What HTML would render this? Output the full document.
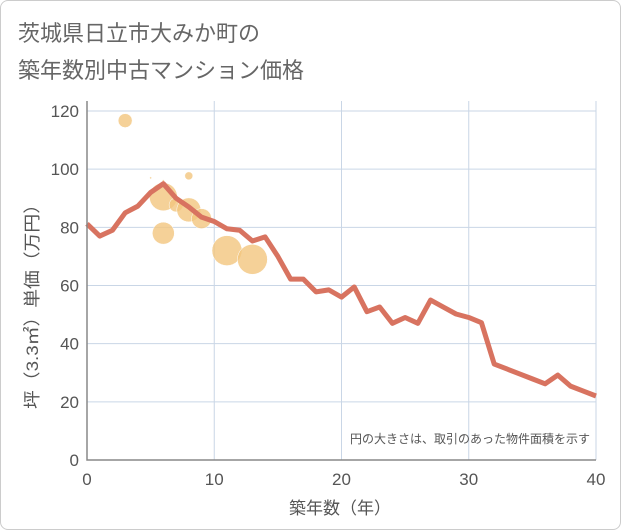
<!DOCTYPE html>
<html><head><meta charset="utf-8"><style>
body{margin:0;background:#fff;font-family:"Liberation Sans","Noto Sans CJK JP",sans-serif;}
#wrap{position:relative;width:619px;height:528px;border:1px solid #ccc;border-radius:8px;overflow:hidden;}
</style></head><body>
<div id="wrap">
<svg id="c" width="621" height="530" style="position:absolute;left:-1px;top:-1px" font-family="Liberation Sans, Noto Sans CJK JP, sans-serif">
<text x="18" y="41" font-size="22" fill="#666">茨城県日立市大みか町の</text>
<text x="18" y="78" font-size="22" fill="#666">築年数別中古マンション価格</text>
<g id="grid"></g><g id="bubbles"></g><g id="line"></g><g id="axes"></g>
<text x="590" y="443" font-size="12" fill="#555" text-anchor="end">円の大きさは、取引のあった物件面積を示す</text>
<text x="340" y="514" font-size="17" fill="#555" text-anchor="middle">築年数（年）</text>
<text transform="translate(38,302) rotate(-90)" font-size="17" fill="#555" text-anchor="middle" textLength="214" lengthAdjust="spacingAndGlyphs">坪（3.3㎡）単価（万円）</text>
</svg>
</div>
<script>
const lineYears=[0,1,2,3,4,5,6,7,8,9,10,11,12,13,14,15,16,17,18,19,20,21,22,23,24,25,26,27,28,29,30,31,32,33,34,35,36,37,38,39,40];
const linePrices=[81.2,77,79,85,87.3,92,95,90,87,83.5,82,79.5,79,75.3,76.7,70,62.2,62.2,57.8,58.5,56,59.5,51,52.6,47,49,47,55,52.6,50.2,49,47.2,33,31.3,29.6,27.9,26.2,29.2,25.4,23.7,22];
const bubbleYears=[3,6,7,8,9,6,8,11,13,5,6];
const bubblePrices=[116.7,90.5,87.7,86,83,78,97.7,72,69,97,96];
const bubbleSizes=[49,196,49,144,100,121,16,225,225,1,1];
const xTicks=[0,10,20,30,40];
const yTicks=[0,20,40,60,80,100,120];
const X0=87,X1=596,Y0=460,Y1=111;
const sx=v=>X0+(v-0)/40*(X1-X0);
const sy=v=>Y0-(v/120)*(Y0-Y1);
const NS="http://www.w3.org/2000/svg";
function mk(t,a,p){const e=document.createElementNS(NS,t);for(const k in a)e.setAttribute(k,a[k]);p.appendChild(e);return e;}
const grid=document.getElementById('grid'),axes=document.getElementById('axes');
yTicks.forEach(v=>{
 const l=mk('line',{x1:X0,x2:X1,y1:sy(v),y2:sy(v),stroke:'#c9d6e6','stroke-width':1},grid);
 
 
 const t=mk('text',{x:X0-8,y:sy(v)+6,'font-size':17,fill:'#555','text-anchor':'end'},axes);t.textContent=v;
 
 
});
xTicks.forEach(v=>{
 const l=mk('line',{x1:sx(v),x2:sx(v),y1:Y1-10,y2:Y0,stroke:'#c9d6e6','stroke-width':1},grid);
 
 
 const t=mk('text',{x:sx(v),y:Y0+25,'font-size':17,fill:'#555','text-anchor':'middle'},axes);t.textContent=v;
 
 
});
const ax=mk('path',{d:`M${X0},${Y1-10}V${Y0}H${X1}`,stroke:'#888',fill:'none','stroke-width':1.5},axes);


const bg=document.getElementById('bubbles');
bubbleYears.forEach((yr,i)=>{
 const c=mk('circle',{cx:sx(yr),cy:sy(bubblePrices[i]),r:Math.sqrt(bubbleSizes[i]),fill:'#f3c57e','fill-opacity':0.8,stroke:'#fff','stroke-width':0.5},bg);
 
 
});
const p=mk('polyline',{points:lineYears.map((y,i)=>sx(y)+','+sy(linePrices[i])).join(' '),fill:'none',stroke:'#d87360','stroke-width':5,'stroke-linejoin':'round'},document.getElementById('line'));


</script>
</body></html>
